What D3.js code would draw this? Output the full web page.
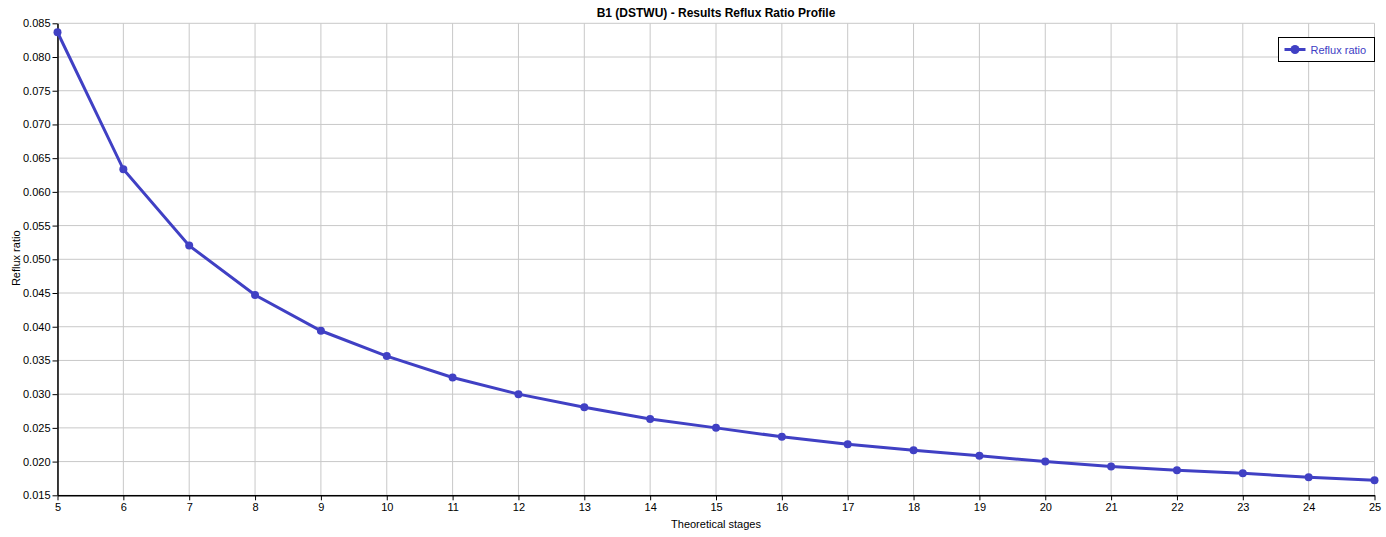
<!DOCTYPE html>
<html>
<head>
<meta charset="utf-8">
<script src="https://cdn.jsdelivr.net/npm/d3@7"></script>
<style>
    body { margin: 0; background: #fff; }
    svg text { font-family: "Liberation Sans", Arial, sans-serif; }
</style>
</head>
<body>
<div id="canvas"></div>
<script>
// Data
const stages = [5, 6, 7, 8, 9, 10, 11, 12, 13, 14, 15, 16, 17, 18, 19, 20, 21, 22, 23, 24, 25]
const refluxRatio = [0.08367, 0.06335, 0.05203, 0.0447, 0.0394, 0.03565, 0.03248, 0.0300, 0.02807, 0.02631,
    0.0250, 0.02367, 0.02257, 0.02168, 0.02085, 0.0200, 0.01926, 0.01871, 0.01826, 0.01767, 0.01722]
const yTicks = [0.015, 0.020, 0.025, 0.030, 0.035, 0.040, 0.045, 0.050, 0.055, 0.060, 0.065, 0.070, 0.075, 0.080, 0.085]
const xTicks = stages

// Constants
const width = 1386
const height = 537
const plotLeft = 57.5
const plotRight = 1374.5
const plotTop = 23.3
const plotBottom = 495.3
const lineColor = '#4040c4'

const xScale = d3.scaleLinear().domain([5, 25]).range([plotLeft, plotRight])
const yScale = d3.scaleLinear().domain([0.015, 0.085]).range([plotBottom, plotTop])

const svg = d3.select('#canvas')
    .append('svg').attr('width', width).attr('height', height)

// Grid
svg.append('g')
    .selectAll('line')
    .data(xTicks)
    .join('line')
    .attr('x1', d => xScale(d)).attr('x2', d => xScale(d))
    .attr('y1', plotTop).attr('y2', plotBottom)
    .attr('stroke', '#c8c8c8')
svg.append('g')
    .selectAll('line')
    .data(yTicks)
    .join('line')
    .attr('x1', plotLeft).attr('x2', plotRight)
    .attr('y1', d => yScale(d)).attr('y2', d => yScale(d))
    .attr('stroke', '#c8c8c8')

// Axes
const xAxis = d3.axisBottom(xScale)
    .tickValues(xTicks)
    .tickSize(5)
    .tickSizeOuter(0)
    .tickPadding(3)
    .tickFormat(d3.format('d'))
const yAxis = d3.axisLeft(yScale)
    .tickValues(yTicks)
    .tickSize(5)
    .tickSizeOuter(0)
    .tickPadding(2)
    .tickFormat(d3.format('.3f'))

svg.append('g')
    .attr('transform', `translate(0,${plotBottom})`)
    .call(xAxis)
    .call(g => g.selectAll('text').attr('font-size', 11).attr('fill', '#000'))
svg.append('g')
    .attr('transform', `translate(${plotLeft},0)`)
    .call(yAxis)
    .call(g => g.selectAll('text').attr('font-size', 11).attr('fill', '#000'))
svg.selectAll('.domain').attr('stroke', '#000').attr('stroke-width', 1.5)
svg.selectAll('.tick line').attr('stroke', '#000')

// Titles
svg.append('text')
    .text('B1 (DSTWU) - Results Reflux Ratio Profile')
    .attr('x', (plotLeft + plotRight) / 2)
    .attr('y', 17)
    .attr('text-anchor', 'middle')
    .attr('font-size', 12)
    .attr('font-weight', 'bold')
svg.append('text')
    .text('Theoretical stages')
    .attr('x', (plotLeft + plotRight) / 2)
    .attr('y', 528)
    .attr('text-anchor', 'middle')
    .attr('font-size', 11)
svg.append('text')
    .text('Reflux ratio')
    .attr('transform', `translate(20,${(plotTop + plotBottom) / 2 - 1}) rotate(-90)`)
    .attr('text-anchor', 'middle')
    .attr('font-size', 11)

// Series
const points = stages.map((s, i) => [s, refluxRatio[i]])
const Gen = d3.line()
    .x(d => xScale(d[0]))
    .y(d => yScale(d[1]))
svg.append('path')
    .datum(points)
    .attr('d', Gen)
    .attr('fill', 'none')
    .attr('stroke', lineColor)
    .attr('stroke-width', 3)
svg.append('g')
    .selectAll('circle')
    .data(points)
    .join('circle')
    .attr('cx', d => xScale(d[0]))
    .attr('cy', d => yScale(d[1]))
    .attr('r', 4)
    .attr('fill', lineColor)

// Legend
const legend = svg.append('g').attr('transform', 'translate(1278.5,37.5)')
legend.append('rect')
    .attr('width', 96).attr('height', 24)
    .attr('fill', '#fff').attr('stroke', '#000')
legend.append('line')
    .attr('x1', 6).attr('x2', 27).attr('y1', 12).attr('y2', 12)
    .attr('stroke', lineColor).attr('stroke-width', 3)
legend.append('circle')
    .attr('cx', 16.5).attr('cy', 12).attr('r', 4.5)
    .attr('fill', lineColor)
legend.append('text')
    .text('Reflux ratio')
    .attr('x', 32).attr('y', 16)
    .attr('font-size', 11)
    .attr('fill', lineColor)
</script>
</body>
</html>
